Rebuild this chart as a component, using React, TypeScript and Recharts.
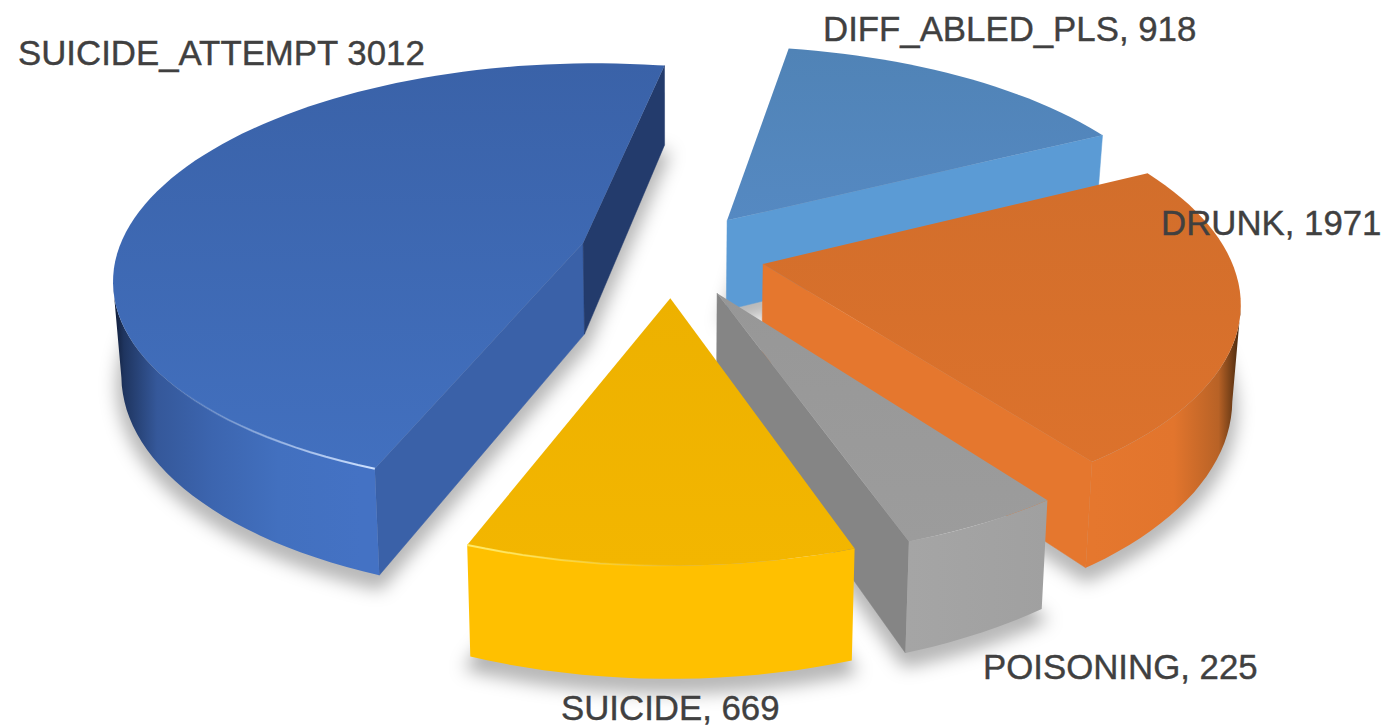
import React from 'react';
import { PieChart, Pie } from 'recharts';

const categories = ['DIFF_ABLED_PLS', 'DRUNK', 'POISONING', 'SUICIDE', 'SUICIDE_ATTEMPT'];
const labelValues = [918, 1971, 225, 669, 3012];
// slice sweeps in degrees as pictured: the reference does not draw them in
// proportion to its printed numbers, so the printed numbers are only used as labels
const drawnSweeps = [53, 81, 17, 40, 169];
const labelTexts = categories.map((c, i) =>
  c === 'SUICIDE_ATTEMPT' ? `${c} ${labelValues[i]}` : `${c}, ${labelValues[i]}`
);

const tableData = categories.map((name, i) => ({ name, sweep: drawnSweeps[i], label: labelTexts[i] }));

const CHART_W = 1386;
const CHART_H = 728;
const PERSPECTIVE = 0.155;
const SQUASH = 0.452;
const THICKNESS = 92;
const BOTTOM_SHRINK = 0.985;

const explode = [95, 93, 95, 95, 93];
const topFrom = ['#5083B6', '#D26E2B', '#979797', '#EDB100', '#3A62A8'];
const topTo = ['#5589C2', '#DC722C', '#9C9C9C', '#F3B600', '#4270BF'];
const endWall = ['#5B9BD5', '#E5772E', '#858585', '#FFC000', '#233B6C'];
const startWall = ['#5B9BD5', '#E5772E', '#858585', '#FFC000', '#3A61A8'];
const rimStops: Array<Array<[number, string]>> = [
  [[0, '#5B9BD5'], [1, '#5B9BD5']],
  [[0, '#E5772E'], [0.55, '#E2752D'], [0.85, '#B86226'], [0.97, '#5A3212'], [1, '#3A200B']],
  [[0, '#A5A5A5'], [1, '#A0A0A0']],
  [[0, '#FFC000'], [1, '#FFC000']],
  [[0, '#0E1A33'], [0.02, '#1F3560'], [0.08, '#35589A'], [0.18, '#3C65AF'], [0.3, '#4270BF'], [0.45, '#4472C4'], [1, '#4472C4']],
];
// thin light edge running off a slice corner: [colour, degrees from start, degrees from end]
const glints: Array<[string, number, number] | null> = [
  null,
  null,
  null,
  ['#FFEB6B', 0, 22],
  ['#CFE2FF', 32, 0],
];
const labelAt: Array<[number, number]> = [
  [823, 41],
  [1161, 235],
  [983, 679],
  [561, 720],
  [18, 65],
];

type P = { x: number; y: number };
const toPath = (pts: P[]) =>
  pts.map((p, i) => `${i ? 'L' : 'M'}${p.x.toFixed(1)} ${p.y.toFixed(1)}`).join(' ') + ' Z';
const toLine = (pts: P[]) =>
  pts.map((p, i) => `${i ? 'L' : 'M'}${p.x.toFixed(1)} ${p.y.toFixed(1)}`).join(' ');

// turn the flat sector recharts hands over into top and bottom outlines of a tilted slab
function sliceOutline(props: any) {
  const { cx, cy, outerRadius: R, startAngle, endAngle, index } = props;
  const a0 = 90 - startAngle;
  const a1 = 90 - endAngle;
  const mid = ((a0 + a1) / 2) * (Math.PI / 180);
  const ox = Math.sin(mid) * explode[index];
  const oy = -Math.cos(mid) * explode[index];

  const lift = (u: number, v: number, bottom: boolean): P => {
    const w = 1 - (PERSPECTIVE * v) / R;
    const sx = (u / w) * (bottom ? BOTTOM_SHRINK : 1);
    return { x: cx + sx, y: cy + (v * SQUASH + (bottom ? THICKNESS : 0)) / w };
  };
  const onRim = (deg: number, bottom: boolean) => {
    const t = (deg * Math.PI) / 180;
    return lift(ox + Math.sin(t) * R, oy - Math.cos(t) * R, bottom);
  };
  const angles: number[] = [];
  for (let d = a0; d < a1; d += 2) angles.push(d);
  angles.push(a1);

  return {
    a0,
    a1,
    angles,
    onRim,
    top: angles.map((d) => onRim(d, false)),
    bottom: angles.map((d) => onRim(d, true)),
    apexTop: lift(ox, oy, false),
    apexBottom: lift(ox, oy, true),
  };
}

function ShadowShape(props: any) {
  const { bottom, apexBottom } = sliceOutline(props);
  const lowered = [apexBottom, ...bottom].map((p) => ({ x: p.x, y: p.y + 10 }));
  return (
    <path
      d={toPath(lowered)}
      fill="#000"
      fillOpacity={0.26}
      stroke="#000"
      strokeOpacity={0.26}
      strokeWidth={8}
      filter="url(#sliceShadow)"
    />
  );
}

function SliceShape(props: any) {
  const { index } = props;
  const { a0, a1, angles, onRim, top, bottom, apexTop, apexBottom } = sliceOutline(props);
  const first = top[0];
  const last = top[top.length - 1];

  const rimTop: P[] = [];
  const rimBottom: P[] = [];
  for (let i = 0; i < top.length - 1; i++) {
    if (top[i + 1].x < top[i].x) {
      if (!rimTop.length) {
        rimTop.push(top[i]);
        rimBottom.push(bottom[i]);
      }
      rimTop.push(top[i + 1]);
      rimBottom.push(bottom[i + 1]);
    }
  }
  const xs = top.map((p) => p.x);
  const minX = Math.min(...xs);
  const maxX = Math.max(...xs);

  const glint = glints[index];
  let glintPts: P[] = [];
  if (glint) {
    const from = glint[1] ? a0 : a1 - glint[2];
    const to = glint[1] ? a0 + glint[1] : a1;
    glintPts = angles.filter((d) => d >= from && d <= to).map((d) => onRim(d, false));
  }

  return (
    <g>
      <defs>
        <linearGradient id={`top${index}`} x1="0" y1="0" x2="0" y2="1">
          <stop offset="0" stopColor={topFrom[index]} />
          <stop offset="1" stopColor={topTo[index]} />
        </linearGradient>
        <linearGradient id={`rim${index}`} gradientUnits="userSpaceOnUse" x1={minX} y1="0" x2={maxX} y2="0">
          {rimStops[index].map(([o, c]) => (
            <stop key={o} offset={o} stopColor={c} />
          ))}
        </linearGradient>
        {glint && glintPts.length > 1 && (
          <linearGradient
            id={`glint${index}`}
            gradientUnits="userSpaceOnUse"
            x1={glint[1] ? glintPts[0].x : glintPts[glintPts.length - 1].x}
            y1="0"
            x2={glint[1] ? glintPts[glintPts.length - 1].x : glintPts[0].x}
            y2="0"
          >
            <stop offset="0" stopColor={glint[0]} stopOpacity={1} />
            <stop offset="1" stopColor={glint[0]} stopOpacity={0} />
          </linearGradient>
        )}
      </defs>
      {first.x < apexTop.x && (
        <path
          d={toPath([apexTop, first, bottom[0], apexBottom])}
          fill={startWall[index]}
          stroke={startWall[index]}
          strokeWidth={0.5}
        />
      )}
      {last.x > apexTop.x && (
        <path
          d={toPath([last, apexTop, apexBottom, bottom[bottom.length - 1]])}
          fill={endWall[index]}
          stroke={endWall[index]}
          strokeWidth={0.5}
        />
      )}
      {rimTop.length > 1 && (
        <path d={toPath([...rimTop, ...[...rimBottom].reverse()])} fill={`url(#rim${index})`} />
      )}
      <path d={toPath([apexTop, ...top])} fill={`url(#top${index})`} />
      {glintPts.length > 1 && (
        <path d={toLine(glintPts)} fill="none" stroke={`url(#glint${index})`} strokeWidth={2} />
      )}
    </g>
  );
}

const renderLabel = (props: any) => {
  const [x, y] = labelAt[props.index];
  return (
    <text
      key={props.index}
      x={x}
      y={y}
      textAnchor="start"
      fontFamily="Liberation Sans"
      fontSize={34.8}
      fill="#404040"
      stroke="#404040"
      strokeWidth={0.4}
    >
      {labelTexts[props.index]}
    </text>
  );
};

export default function App() {
  const pieProps = {
    data: tableData,
    dataKey: 'sweep',
    nameKey: 'name',
    cx: 672,
    cy: 254,
    innerRadius: 0,
    outerRadius: 466,
    startAngle: 80,
    endAngle: -280,
    stroke: 'none',
    isAnimationActive: false,
  };
  return (
    <div style={{ position: 'absolute', left: 0, top: 0, width: CHART_W, height: CHART_H, background: '#fff' }}>
      <PieChart width={CHART_W} height={CHART_H} margin={{ top: 0, right: 0, bottom: 0, left: 0 }}>
        <defs>
          <filter id="sliceShadow" x="-20%" y="-20%" width="140%" height="140%">
            <feGaussianBlur stdDeviation="9" />
          </filter>
        </defs>
        <Pie {...pieProps} shape={ShadowShape} label={false} labelLine={false} />
        <Pie {...pieProps} shape={SliceShape} label={renderLabel} labelLine={false} />
      </PieChart>
    </div>
  );
}
